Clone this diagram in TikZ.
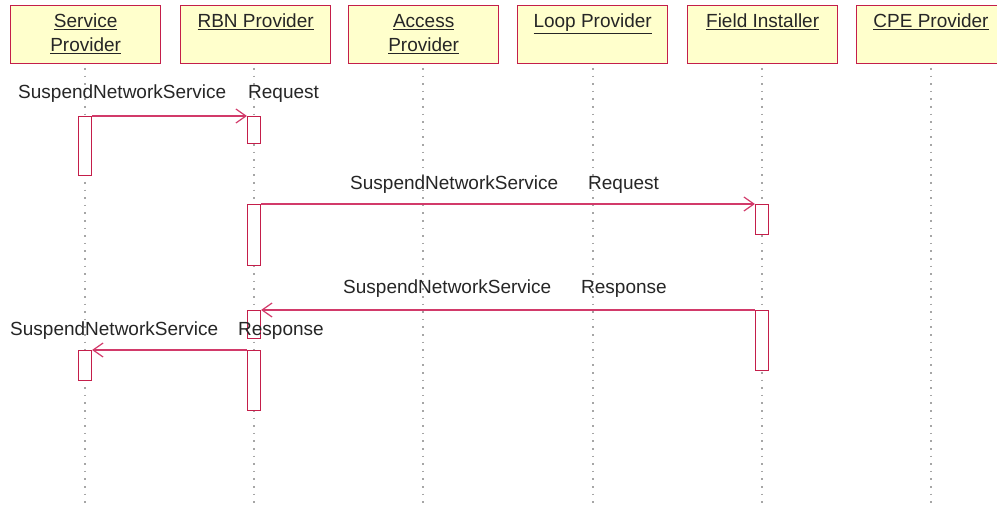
\documentclass[tikz,border=0pt]{standalone}
\usepackage{fontspec}
\setmainfont{Liberation Sans}
\usetikzlibrary{arrows.meta}
\definecolor{boxred}{HTML}{C41E4A}
\definecolor{boxfill}{HTML}{FFFFCC}
\definecolor{msgred}{HTML}{D23A6A}
\definecolor{txt}{HTML}{262626}
\begin{document}
\begin{tikzpicture}[x=1pt,y=-1pt,
  objbox/.style={draw=boxred, line width=1.3pt, fill=boxfill, minimum width=150pt, minimum height=58pt, inner sep=0pt, anchor=north west},
  objtitle/.style={anchor=north, align=center, font=\fontsize{19}{24}\selectfont, text=txt, inner sep=0pt},
  lifeline/.style={draw=gray!70, line width=1.6pt, dash pattern=on 1.6pt off 6pt},
  actbox/.style={draw=boxred, line width=1.1pt, fill=white, minimum width=13pt, inner sep=0pt, anchor=north},
  msg/.style={draw=msgred, line width=1.2pt, -{Straight Barb[length=10pt,width=14pt,line width=1.2pt]}},
  msglabel/.style={font=\fontsize{19}{22}\selectfont, text=txt, inner sep=0pt, anchor=base west}
]
\useasboundingbox (0,0) rectangle (997,508);
\fill[white] (0,0) rectangle (997,508);

% object boxes
\node[objbox] (sp) at (10,5) {};
\node[objbox] (rbn) at (180,5) {};
\node[objbox] (ap) at (348,5) {};
\node[objbox] (lp) at (517,5) {};
\node[objbox] (fi) at (687,5) {};
\node[objbox] (cpe) at (856,5) {};

\node[objtitle] (spt) at ([yshift=-9pt]sp.north) {\underline{Service}\\\underline{Provider}};
\node[objtitle] (rbnt) at ([yshift=-9pt]rbn.north) {\underline{RBN Provider}};
\node[objtitle] (apt) at ([yshift=-9pt]ap.north) {\underline{Access}\\\underline{Provider}};
\node[objtitle] (lpt) at ([yshift=-9pt]lp.north) {\underline{Loop Provider}};
\node[objtitle] (fit) at ([yshift=-9pt]fi.north) {\underline{Field Installer}};
\node[objtitle] (cpet) at (931,14) {\underline{CPE Provider}};

% lifelines
\coordinate (e1) at (85,508);
\coordinate (e2) at (254,508);
\coordinate (e3) at (423,508);
\coordinate (e4) at (593,508);
\coordinate (e5) at (762,508);
\coordinate (e6) at (931,508);
\draw[lifeline] (85,68) -- (e1);
\draw[lifeline] (254,68) -- (e2);
\draw[lifeline] (423,68) -- (e3);
\draw[lifeline] (593,68) -- (e4);
\draw[lifeline] (762,68) -- (e5);
\draw[lifeline] (931,68) -- (e6);

% activations
\node[actbox, minimum height=59pt] (a1) at (85,116) {};
\node[actbox, minimum height=27pt] (b1) at (254,116) {};
\node[actbox, minimum height=61pt] (b2) at (254,204) {};
\node[actbox, minimum height=30pt] (f1) at (762,204) {};
\node[actbox, minimum height=60pt] (f2) at (762,310) {};
\node[actbox, minimum height=28pt] (b3) at (254,310) {};
\node[actbox, minimum height=60pt] (b4) at (254,350) {};
\node[actbox, minimum height=30pt] (a2) at (85,350) {};

% message labels
\node[msglabel] (l1) at (18,99) {SuspendNetworkService};
\node[msglabel] (l1b) at (248,99) {Request};
\node[msglabel] (l2) at (350,190) {SuspendNetworkService};
\node[msglabel] (l2b) at (588,190) {Request};
\node[msglabel] (l3) at (343,294) {SuspendNetworkService};
\node[msglabel] (l3b) at (581,294) {Response};
\node[msglabel] (l4) at (10,335) {SuspendNetworkService};
\node[msglabel] (l4b) at (238,335) {Response};

% messages
\draw[msg] (a1.north east) -- (b1.north west);
\draw[msg] (b2.north east) -- (f1.north west);
\draw[msg] (f2.north west) -- (b3.north east);
\draw[msg] (b4.north west) -- (a2.north east);
\end{tikzpicture}
\end{document}
